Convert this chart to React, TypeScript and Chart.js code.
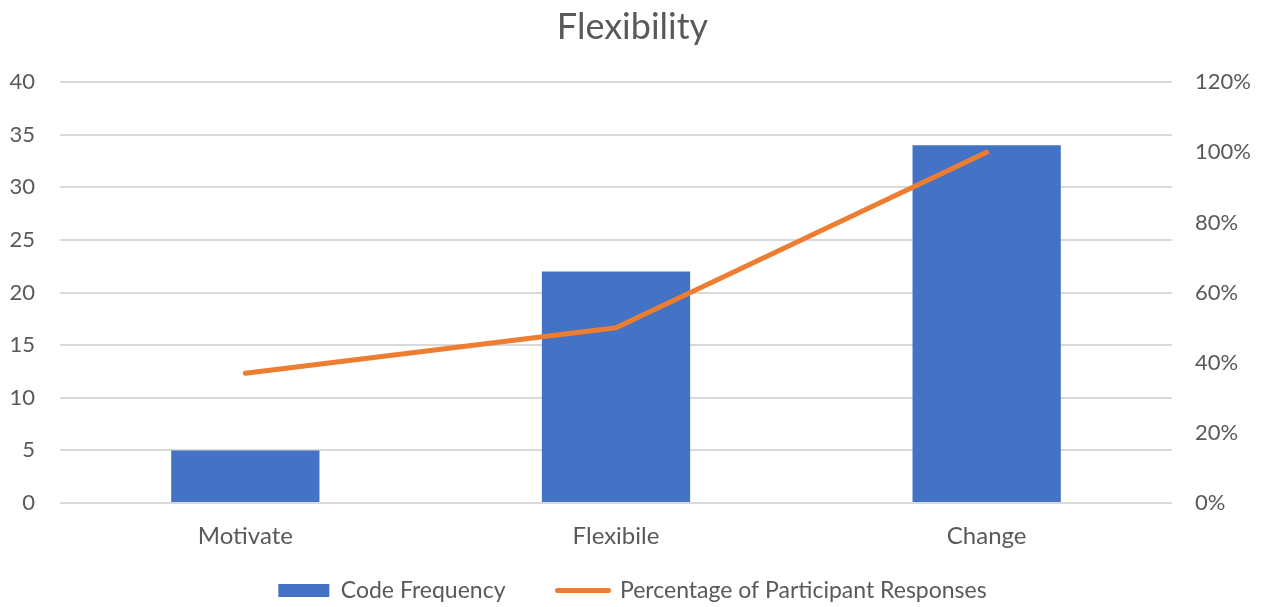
import React, { useEffect, useRef } from "react";
import { Chart, registerables } from "chart.js";

Chart.register(...registerables);

const chartTitle = "Flexibility";
const categories = ["Motivate", "Flexibile", "Change"];
const codeFrequency = [5, 22, 34];
const participantPct = [0.37, 0.5, 1.0];
const barLabel = "Code Frequency";
const lineLabel = "Percentage of Participant Responses";

const BLUE = "#4472C4";
const ORANGE = "#ED7D31";
const TEXT = "#595959";
const FONT = "Lato, 'Open Sans', sans-serif";

export default function App() {
  const ref = useRef<HTMLCanvasElement | null>(null);

  useEffect(() => {
    if (!ref.current) return;
    const chart = new Chart(ref.current, {
      type: "bar",
      data: {
        labels: categories,
        datasets: [
          {
            type: "line",
            label: lineLabel,
            data: participantPct,
            yAxisID: "y1",
            borderColor: ORANGE,
            backgroundColor: ORANGE,
            borderWidth: 5,
            pointRadius: 0,
            borderCapStyle: "round",
            borderJoinStyle: "round",
            tension: 0,
          } as any,
          {
            type: "bar",
            label: barLabel,
            data: codeFrequency,
            yAxisID: "y",
            backgroundColor: BLUE,
            borderWidth: 0,
            categoryPercentage: 1,
            barPercentage: 0.4,
          } as any,
        ],
      },
      options: {
        animation: false,
        responsive: false,
        maintainAspectRatio: false,
        layout: { padding: 0 },
        plugins: {
          tooltip: { enabled: false },
          title: {
            display: true,
            text: chartTitle,
            color: TEXT,
            font: { family: FONT, size: 36, weight: "normal" },
            padding: { top: 6, bottom: 33 },
          },
          legend: {
            position: "bottom",
            maxHeight: 80,
            labels: {
              usePointStyle: true,
              pointStyleWidth: 51,
              boxHeight: 13,
              padding: 52,
              color: TEXT,
              font: { family: FONT, size: 23 },
              generateLabels: () => [
                {
                  text: barLabel,
                  fillStyle: BLUE,
                  strokeStyle: BLUE,
                  lineWidth: 0,
                  pointStyle: "rect",
                  hidden: false,
                  datasetIndex: 1,
                  fontColor: TEXT,
                } as any,
                {
                  text: lineLabel,
                  fillStyle: ORANGE,
                  strokeStyle: ORANGE,
                  lineWidth: 5,
                  lineCap: "round",
                  pointStyle: "line",
                  hidden: false,
                  datasetIndex: 0,
                  fontColor: TEXT,
                } as any,
              ],
            },
          },
        },
        scales: {
          x: {
            grid: { display: false, drawTicks: false },
            border: { display: false },
            ticks: { color: TEXT, font: { family: FONT, size: 24 }, mirror: true, padding: -48 },
            afterFit: (s: any) => {
              s.height = 24;
            },
          },
          y: {
            position: "left",
            min: 0,
            max: 40,
            ticks: { stepSize: 5, color: TEXT, font: { family: FONT, size: 22 }, padding: 25 },
            grid: { color: "#D9D9D9", lineWidth: 2, drawTicks: false },
            border: { display: false },
            afterFit: (s: any) => {
              s.width = 60;
            },
          },
          y1: {
            position: "right",
            min: 0,
            max: 1.2,
            ticks: {
              stepSize: 0.2,
              color: TEXT,
              font: { family: FONT, size: 22 },
              padding: 23,
              callback: (v: any) => Math.round(Number(v) * 100) + "%",
            },
            grid: { display: false, drawTicks: false },
            border: { display: false },
            afterFit: (s: any) => {
              s.width = 93;
            },
          },
        },
      },
    });
    return () => chart.destroy();
  }, []);

  return (
    <div style={{ position: "fixed", left: 0, top: 0, width: 1265, height: 607, background: "#fff" }}>
      <canvas ref={ref} width={1265} height={607} style={{ display: "block" }} />
    </div>
  );
}
